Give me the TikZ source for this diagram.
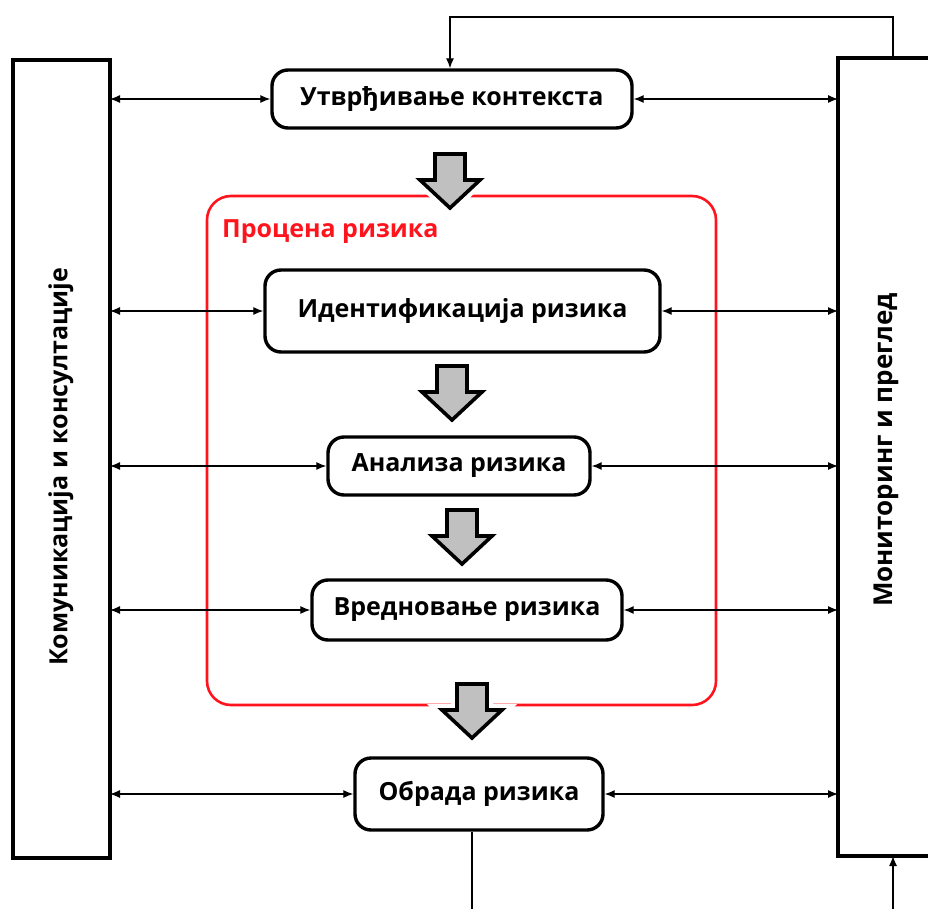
\documentclass[tikz,border=0pt]{standalone}
\usepackage{fontspec}
\setmainfont{Open Sans}
\usetikzlibrary{arrows.meta,calc}
\definecolor{frame}{RGB}{255,20,30}
\definecolor{blockgray}{RGB}{192,192,192}
\tikzset{
  x=1pt, y=-1pt,
  stepbox/.style={draw=black, line width=3.4pt, rounded corners=16pt, fill=white,
    font=\bfseries\fontsize{25}{28}\selectfont, inner sep=0pt, align=center},
  sidebox/.style={draw=black, line width=4.5pt},
  sidetext/.style={font=\bfseries\fontsize{25}{28}\selectfont, rotate=90},
  link/.style={line width=1.2pt, {Latex[length=10pt,width=8pt]}-{Latex[length=10pt,width=8pt]}},
  oneway/.style={line width=1.2pt, -{Latex[length=10pt,width=8pt]}},
  plain/.style={line width=1.2pt},
}
% hollow-headed down arrow: top centre at #1
\newcommand{\downblock}[1]{%
  \path[draw=white, line width=12pt, line join=miter]
    ($#1+(-15,0)$) -- ++(0,26) -- ++(-15,0) -- ++(30,28) -- ++(30,-28) -- ++(-15,0) -- ++(0,-26) -- cycle;
  \path[draw=black, fill=blockgray, line width=3.6pt, line join=miter]
    ($#1+(-15,0)$) -- ++(0,26) -- ++(-15,0) -- ++(30,28) -- ++(30,-28) -- ++(-15,0) -- ++(0,-26) -- cycle;}
\begin{document}
\begin{tikzpicture}
\useasboundingbox (0,0) rectangle (928,909);

% side panels
\draw[sidebox] (13,60) rectangle (110,858);
\draw[sidebox] (838,58) rectangle (940,856);
\node[sidetext] (comm) at (61,467) {Комуникација и консултације};
\node[sidetext, font=\bfseries\fontsize{26}{29}\selectfont] (mon) at (886,450) {Мониторинг и преглед};
\coordinate (L) at (110,0);
\coordinate (R) at (838,0);

% risk assessment frame
\draw[frame, line width=2.6pt, rounded corners=24pt] (207,196) rectangle (716,705);
\node[text=frame, font=\bfseries\fontsize{25}{28}\selectfont, anchor=west, inner sep=0pt] (pr) at (222,232) {Процена ризика};

% block arrows between stages
\downblock{(450,154)}
\downblock{(452,366)}
\downblock{(462,510)}
\downblock{(472,684)}

% process steps
\node[stepbox, minimum width=360pt, minimum height=58pt] (ctx) at (452,99) {Утврђивање контекста};
\node[stepbox, minimum width=395pt, minimum height=82pt] (idf) at (462.5,311) {Идентификација ризика};
\node[stepbox, minimum width=262pt, minimum height=58pt] (ana) at (459,466) {Анализа ризика};
\node[stepbox, minimum width=310pt, minimum height=60pt] (ev) at (467,610) {Вредновање ризика};
\node[stepbox, minimum width=248pt, minimum height=72pt] (tr) at (479,794) {Обрада ризика};

% links to the side panels
\foreach \n in {ctx,idf,ana,ev,tr}{
  \draw[link] (L |- \n.west) -- (\n.west);
  \draw[link] (\n.east) -- (R |- \n.east);
}

% feedback from monitoring back to context
\coordinate (fb1) at (893,58);
\coordinate (fb2) at (893,17);
\coordinate (fb3) at (450,17);
\draw[oneway] (fb1) -- (fb2) -- (fb3) -- (fb3 |- ctx.north);

% outgoing line below treatment, incoming arrow to monitoring
\coordinate (out) at (472,909);
\draw[plain] (tr.south -| out) -- (out);
\coordinate (in) at (893,909);
\draw[oneway] (in) -- (893,856);
\end{tikzpicture}
\end{document}
